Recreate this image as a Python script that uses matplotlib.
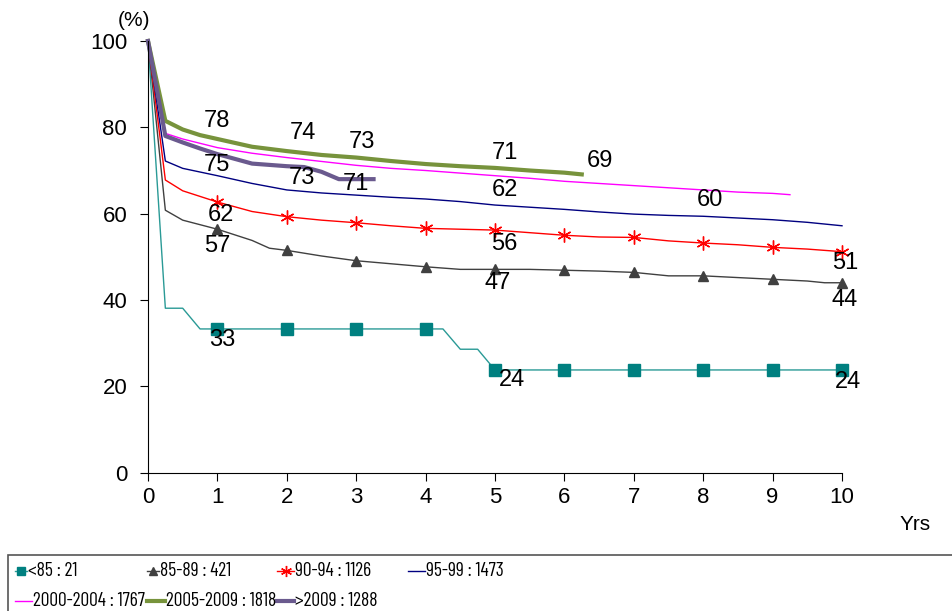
import matplotlib
matplotlib.use("Agg")
import matplotlib.pyplot as plt
from matplotlib.lines import Line2D
from matplotlib.patches import Rectangle

plt.rcParams['font.family'] = ['Liberation Sans', 'DejaVu Sans']

# survival (%) by year of start, x = years
x_lt85 = [0, 0.25, 0.5, 0.75, 1, 2, 3, 4, 4.25, 4.5, 4.75, 5, 6, 7, 8, 9, 10]
y_lt85 = [100, 38.1, 38.1, 33.3, 33.3, 33.3, 33.3, 33.3, 33.3, 28.6, 28.6, 23.8, 23.8, 23.8, 23.8, 23.8, 23.8]

x_8589 = [0, .25, .5, 1, 1.5, 1.75, 2, 2.5, 3, 3.5, 4, 4.5, 5, 5.5, 6, 6.5, 7, 7.5, 8, 8.5, 9, 9.5, 9.75, 10]
y_8589 = [100, 60.8, 58.5, 56.4, 53.8, 52, 51.5, 50.2, 49.1, 48.4, 47.7, 47.1, 47.1, 47.1, 46.9, 46.7, 46.4,
          45.6, 45.6, 45.2, 44.8, 44.4, 44, 44]

x_9094 = [0, .25, .5, 1, 1.5, 2, 2.5, 3, 3.5, 4, 4.5, 5, 5.5, 6, 6.5, 7, 7.5, 8, 8.5, 9, 9.5, 10]
y_9094 = [100, 67.8, 65.3, 62.7, 60.5, 59.3, 58.5, 57.9, 57.2, 56.6, 56.4, 56.2, 55.6, 55, 54.6, 54.5, 53.7,
          53.2, 52.8, 52.2, 51.8, 51.2]

x_9599 = [0, .25, .5, 1, 1.5, 2, 2.5, 3, 3.5, 4, 4.5, 5, 5.5, 6, 6.5, 7, 7.5, 8, 8.5, 9, 9.5, 10]
y_9599 = [100, 72.2, 70.5, 68.8, 67, 65.5, 64.8, 64.3, 63.8, 63.4, 62.8, 62, 61.5, 61, 60.4, 59.9, 59.6,
          59.4, 59, 58.6, 58, 57.2]

x_0004 = [0, .25, .5, 1, 1.5, 2, 2.5, 3, 3.5, 4, 4.5, 5, 5.5, 6, 6.5, 7, 7.5, 8, 8.5, 9, 9.25]
y_0004 = [100, 78.6, 77.3, 75.3, 74, 73, 72.1, 71.2, 70.5, 70, 69.4, 68.8, 68.2, 67.5, 67, 66.5, 66,
          65.5, 65, 64.7, 64.4]

x_0509 = [0, .25, .5, .75, 1, 1.5, 2, 2.5, 3, 3.5, 4, 4.5, 5, 5.5, 6, 6.25]
y_0509 = [100, 81.5, 79.5, 78.2, 77.3, 75.5, 74.5, 73.6, 73, 72.2, 71.5, 71, 70.6, 70, 69.5, 69.1]

x_gt09 = [0, .25, .5, .75, 1, 1.5, 2, 2.25, 2.5, 2.75, 3, 3.25]
y_gt09 = [100, 78, 76.5, 75.1, 73.8, 71.6, 71, 70.8, 69.7, 68, 68, 68]

labels = ['<85 : 21', '85-89 : 421', '90-94 : 1126', '95-99 : 1473',
          '2000-2004 : 1767', '2005-2009 : 1818', '>2009 : 1288']

# value labels: text, x, y
ann_txt = ['78', '74', '73', '71', '69', '75', '73', '71', '62', '60',
           '62', '56', '51', '57', '47', '44', '33', '24', '24']
ann_x = [1.0, 2.23, 3.08, 5.14, 6.51, 1.0, 2.22, 3.0, 5.14, 8.1,
         1.05, 5.14, 10.04, 1.0, 5.04, 10.04, 1.07, 5.24, 10.09]
ann_y = [81.5, 78.6, 76.5, 74.0, 72.3, 71.2, 68.2, 66.8, 65.4, 63.1,
         59.8, 52.9, 48.6, 52.5, 43.9, 40.0, 30.7, 21.5, 21.0]

series = [
    (x_lt85, y_lt85, dict(color='#2a9a96', lw=1, marker='s', ms=8, mfc='#008080', mec='#008080')),
    (x_8589, y_8589, dict(color='#404040', lw=1, marker='^', ms=7, mfc='#404040', mec='#404040')),
    (x_9094, y_9094, dict(color='#ff0000', lw=1, marker=(6, 2, 0), ms=10, mec='#ff0000', mew=1)),
    (x_9599, y_9599, dict(color='#000080', lw=1)),
    (x_0004, y_0004, dict(color='#ff00ff', lw=1)),
    (x_0509, y_0509, dict(color='#77933c', lw=3)),
    (x_gt09, y_gt09, dict(color='#6a5a8e', lw=3)),
]

fig = plt.figure(figsize=(9.53, 6.11), dpi=100)
ax = fig.add_axes([148 / 953, 138.3 / 611, 694 / 953, 431.7 / 611])

for xs, ys, st in series:
    marks = [i for i, v in enumerate(xs) if v > 0 and float(v).is_integer()]
    if 'marker' in st:
        st = dict(st, markevery=marks)
    ax.plot(xs, ys, clip_on=False, **st)

for t, xx, yy in zip(ann_txt, ann_x, ann_y):
    ax.text(xx, yy, t, ha='center', va='center', fontsize=17)

ax.set_xlim(0, 10)
ax.set_ylim(0, 100)
ax.set_xticks(range(0, 11))
ax.set_yticks(range(0, 101, 20))
ax.spines['top'].set_visible(False)
ax.spines['right'].set_visible(False)
ax.tick_params(labelsize=16, length=6, direction='out', pad=4)
ax.tick_params(axis='y', pad=9)
ax.text(-0.43, 104.8, '(%)', fontsize=15, ha='left', va='center')
fig.text(915 / 953, 1 - 525 / 611, 'Yrs', fontsize=15, ha='center', va='center')

# legend drawn by hand so the columns sit where the reference has them
fig.add_artist(Rectangle((8 / 953, -0.05), 1.0, (611 - 555) / 611 + 0.05, transform=fig.transFigure,
                         fill=False, edgecolor='#555555', lw=1.2))
pos = [(15, 27, 571), (147, 159, 571), (277, 294, 571), (408, 425, 571),
       (15, 32, 601), (147, 165, 601), (277, 294, 601)]
for (xs, ys, st), lab, (h0, h1, py) in zip(series, labels, pos):
    yy = 1 - py / 611
    hx = [h0 / 953, h1 / 953]
    line = Line2D(hx, [yy, yy], transform=fig.transFigure, color=st['color'], lw=st['lw'])
    fig.add_artist(line)
    if 'marker' in st:
        fig.add_artist(Line2D([sum(hx) / 2], [yy], transform=fig.transFigure, ls='none',
                              marker=st['marker'], ms=st['ms'] * 0.8, mfc=st.get('mfc', 'none'),
                              mec=st['mec']))
    fig.text(h1 / 953 + 0.001, yy, lab, fontsize=14, ha='left', va='center',
             family=['Barlow Condensed', 'Archivo Narrow', 'DejaVu Sans'])

fig.savefig('out.png', dpi=100)
